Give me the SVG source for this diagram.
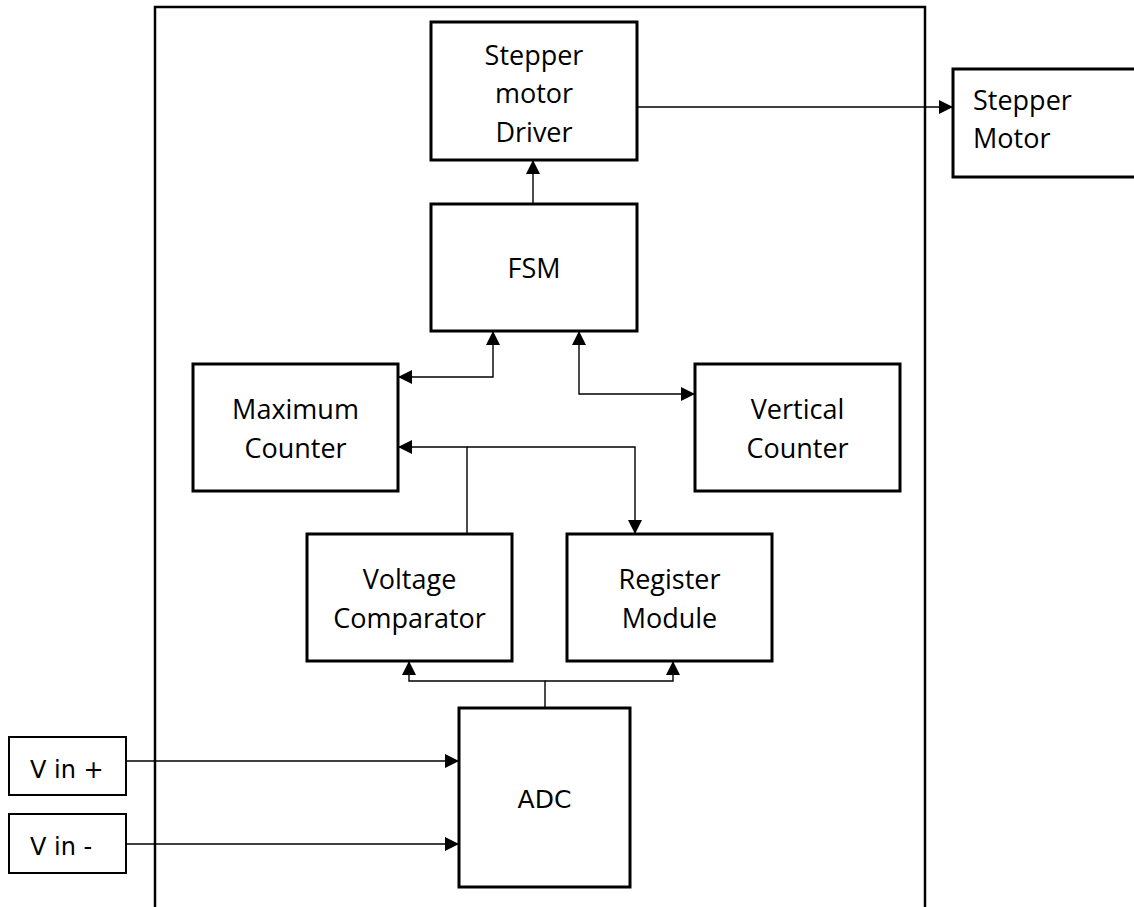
<svg xmlns="http://www.w3.org/2000/svg" width="1134" height="907" viewBox="0 0 1134 907">
<style>
.box{fill:#fff;stroke:#000;stroke-width:3}
.thin{fill:#fff;stroke:#000;stroke-width:2}
.lbl{font-family:"Open Sans","DejaVu Sans",sans-serif;font-size:27px;fill:#000;text-anchor:middle}
.lft{font-family:"Open Sans","DejaVu Sans",sans-serif;font-size:27px;fill:#000}
.dv{font-family:"DejaVu Sans",sans-serif;font-size:24px;fill:#000}
.dvc{font-family:"DejaVu Sans",sans-serif;font-size:25px;fill:#000;text-anchor:middle}
.con{fill:none;stroke:#000;stroke-width:1.4}
</style>
<defs>
<marker id="ah" markerUnits="userSpaceOnUse" markerWidth="14" markerHeight="14" viewBox="0 0 14 14" refX="14" refY="7" orient="auto-start-reverse">
<path d="M0,0 L14,7 L0,14 z" fill="#000"/>
</marker>
</defs>
<path d="M155,910 V7 H925 V910" fill="none" stroke="#000" stroke-width="2.5"/>
<g id="connectors">
<path class="con" d="M637,107 H953" marker-end="url(#ah)"/>
<path class="con" d="M533,204 V160" marker-end="url(#ah)"/>
<path class="con" d="M493,331 V377 H398" marker-start="url(#ah)" marker-end="url(#ah)"/>
<path class="con" d="M579,331 V394 H695" marker-start="url(#ah)" marker-end="url(#ah)"/>
<path class="con" d="M467,534 V447 H398" marker-end="url(#ah)"/>
<path class="con" d="M467,447 H635 V534" marker-end="url(#ah)"/>
<path class="con" d="M545,708 V681 H409 V661" marker-end="url(#ah)"/>
<path class="con" d="M545,681 H673 V661" marker-end="url(#ah)"/>
<path class="con" d="M126,761 H459" marker-end="url(#ah)"/>
<path class="con" d="M126,844 H459" marker-end="url(#ah)"/>
</g>
<g id="driver">
<rect class="box" x="431" y="22" width="206" height="138"/>
<text class="lbl" x="534" y="65">Stepper</text>
<text class="lbl" x="534" y="103">motor</text>
<text class="lbl" x="534" y="142">Driver</text>
</g>
<g id="stepper-motor">
<rect class="box" x="953" y="69" width="184" height="108"/>
<text class="lft" x="973" y="110">Stepper</text>
<text class="lft" x="973" y="148">Motor</text>
</g>
<g id="fsm">
<rect class="box" x="431" y="204" width="206" height="127"/>
<text class="lbl" x="534" y="278">FSM</text>
</g>
<g id="max-counter">
<rect class="box" x="193" y="364" width="205" height="127"/>
<text class="lbl" x="295.5" y="419">Maximum</text>
<text class="lbl" x="295.5" y="458">Counter</text>
</g>
<g id="vertical-counter">
<rect class="box" x="695" y="364" width="205" height="127"/>
<text class="lbl" x="797.5" y="419">Vertical</text>
<text class="lbl" x="797.5" y="458">Counter</text>
</g>
<g id="voltage-comparator">
<rect class="box" x="307" y="534" width="205" height="127"/>
<text class="lbl" x="409.5" y="589">Voltage</text>
<text class="lbl" x="409.5" y="628">Comparator</text>
</g>
<g id="register-module">
<rect class="box" x="567" y="534" width="205" height="127"/>
<text class="lbl" x="669.5" y="589">Register</text>
<text class="lbl" x="669.5" y="628">Module</text>
</g>
<g id="adc">
<rect class="box" x="459" y="708" width="171" height="179"/>
<text class="dvc" x="544.5" y="808">ADC</text>
</g>
<g id="vin-plus">
<rect class="thin" x="9" y="737" width="117" height="58"/>
<text class="dv" x="30" y="778">V in +</text>
</g>
<g id="vin-minus">
<rect class="thin" x="9" y="814" width="117" height="59"/>
<text class="dv" x="30" y="855">V in -</text>
</g>
</svg>
